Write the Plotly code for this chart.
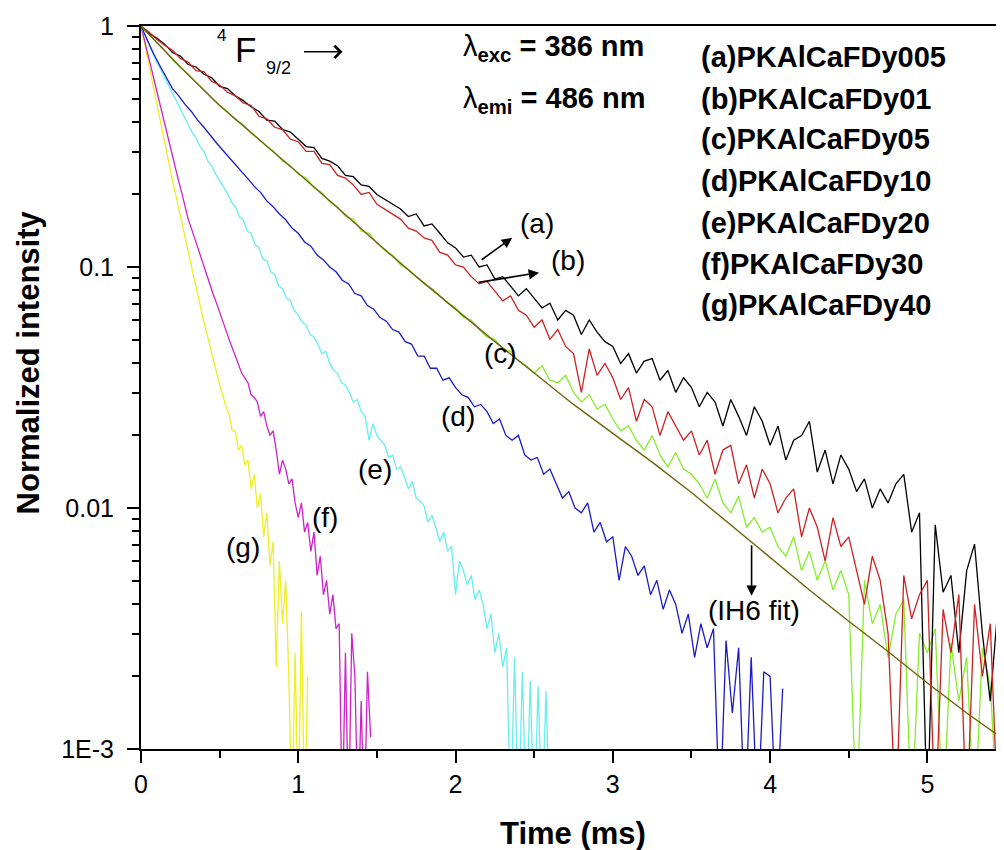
import numpy as np
import plotly.graph_objects as go

# ---------------- data (normalized intensity vs time in ms) ----------------
# sampling grids (ms)
t_abc = np.round(np.arange(111) * 0.05, 3)     # 0 .. 5.5
t_d = np.round(np.arange(103) * 0.04, 3)       # 0 .. 4.08
t_e = np.round(np.arange(105) * 0.025, 3)      # 0 .. 2.6
t_f = np.round(np.arange(74) * 0.02, 3)        # 0 .. 1.46
t_g = np.round(np.arange(54) * 0.02, 3)        # 0 .. 1.06
t_fit = [0, 0.25, 0.5, 0.75, 1.0, 1.25, 1.5, 1.75, 2.0, 2.25, 2.5, 2.75,
         3.0, 3.25, 3.5, 3.75, 4.0, 4.25, 4.5, 4.75, 5.0, 5.25, 5.5]

y_a = [1.0, 0.933, 0.891, 0.841, 0.776, 0.750, 0.692, 0.676, 0.631, 0.610,
       0.562, 0.550, 0.513, 0.490, 0.462, 0.442, 0.407, 0.403, 0.372, 0.363,
       0.339, 0.316, 0.313, 0.282, 0.275, 0.263, 0.240, 0.237, 0.219, 0.216,
       0.200, 0.191, 0.182, 0.174, 0.162, 0.166, 0.148, 0.151, 0.138, 0.126,
       0.120, 0.110, 0.112, 0.100, 0.102, 0.0891, 0.0912, 0.0832, 0.0759, 0.0813,
       0.0741, 0.0676, 0.0708, 0.0603, 0.0661, 0.0631, 0.0525, 0.0603, 0.0537, 0.0490,
       0.0468, 0.0398, 0.0437, 0.0363, 0.0407, 0.0417, 0.0339, 0.0372, 0.0302, 0.0347,
       0.0316, 0.0263, 0.0302, 0.0275, 0.0219, 0.0282, 0.0240, 0.0200, 0.0263, 0.0229,
       0.0182, 0.0219, 0.0158, 0.0191, 0.0200, 0.0229, 0.0141, 0.0174, 0.0126, 0.0166,
       0.0145, 0.0117, 0.0132, 0.0100, 0.0120, 0.0105, 0.0126, 0.0138, 0.00794, 0.00955,
       0.0005, 0.00851, 0.00447, 0.00525, 0.00251, 0.00550, 0.00708, 0.00300, 0.00158, 0.00398,
       0.0005]

y_b = [1.0, 0.944, 0.881, 0.832, 0.794, 0.733, 0.708, 0.653, 0.646, 0.589,
       0.569, 0.531, 0.513, 0.479, 0.468, 0.422, 0.412, 0.380, 0.372, 0.339,
       0.331, 0.302, 0.302, 0.269, 0.266, 0.240, 0.234, 0.219, 0.200, 0.204,
       0.182, 0.174, 0.166, 0.158, 0.145, 0.141, 0.132, 0.129, 0.115, 0.112,
       0.102, 0.100, 0.0912, 0.0851, 0.0871, 0.0794, 0.0724, 0.0759, 0.0661, 0.0631,
       0.0562, 0.0603, 0.0501, 0.0550, 0.0468, 0.0437, 0.0302, 0.0457, 0.0355, 0.0398,
       0.0347, 0.0282, 0.0316, 0.0229, 0.0282, 0.0263, 0.0200, 0.0251, 0.0219, 0.0191,
       0.0209, 0.0166, 0.0191, 0.0138, 0.0174, 0.0182, 0.0126, 0.0151, 0.0110, 0.0145,
       0.0126, 0.00955, 0.0110, 0.0120, 0.00759, 0.0100, 0.00832, 0.00603, 0.00912, 0.00692,
       0.00759, 0.00550, 0.00398, 0.00631, 0.00501, 0.00302, 0.0005, 0.00525, 0.00347, 0.00437,
       0.00501, 0.0005, 0.00380, 0.00251, 0.00437, 0.0005, 0.00398, 0.00200, 0.00331, 0.0005,
       0.00275]

y_c = [1.0, 0.923, 0.851, 0.794, 0.724, 0.676, 0.631, 0.582, 0.543, 0.501,
       0.468, 0.442, 0.407, 0.389, 0.359, 0.339, 0.316, 0.299, 0.275, 0.263,
       0.243, 0.234, 0.214, 0.204, 0.186, 0.178, 0.162, 0.158, 0.141, 0.138,
       0.126, 0.117, 0.112, 0.102, 0.0977, 0.0912, 0.0851, 0.0813, 0.0759, 0.0708,
       0.0676, 0.0617, 0.0603, 0.0550, 0.0513, 0.0501, 0.0457, 0.0447, 0.0407, 0.0389,
       0.0363, 0.0389, 0.0339, 0.0331, 0.0355, 0.0302, 0.0275, 0.0295, 0.0257, 0.0269,
       0.0234, 0.0209, 0.0219, 0.0191, 0.0174, 0.0200, 0.0166, 0.0148, 0.0170, 0.0145,
       0.0138, 0.0126, 0.0110, 0.0132, 0.0105, 0.00955, 0.0112, 0.00832, 0.00912, 0.00794,
       0.00832, 0.00692, 0.00631, 0.00759, 0.00550, 0.00661, 0.00501, 0.00603, 0.00457, 0.00550,
       0.00437, 0.0005, 0.00501, 0.00331, 0.00398, 0.00240, 0.00363, 0.00417, 0.0005, 0.00302,
       0.00251, 0.00316, 0.0005, 0.00275, 0.00158, 0.00240, 0.0005, 0.00263, 0.00182, 0.0005,
       0.00219]

y_d = [1.0, 0.871, 0.767, 0.684, 0.617, 0.550, 0.513, 0.473, 0.442, 0.407,
       0.380, 0.351, 0.327, 0.305, 0.285, 0.266, 0.251, 0.232, 0.216, 0.204,
       0.188, 0.178, 0.166, 0.157, 0.145, 0.138, 0.127, 0.122, 0.112, 0.107,
       0.100, 0.0955, 0.0881, 0.0851, 0.0776, 0.0759, 0.0692, 0.0668, 0.0617, 0.0596,
       0.0550, 0.0537, 0.0490, 0.0479, 0.0427, 0.0427, 0.0380, 0.0380, 0.0339, 0.0347,
       0.0316, 0.0295, 0.0288, 0.0263, 0.0269, 0.0251, 0.0224, 0.0234, 0.0200, 0.0191,
       0.0200, 0.0166, 0.0158, 0.0162, 0.0138, 0.0145, 0.0126, 0.0110, 0.0117, 0.0100,
       0.00955, 0.0105, 0.00794, 0.00871, 0.00724, 0.00759, 0.00501, 0.00692, 0.00631, 0.00525,
       0.00575, 0.00437, 0.00501, 0.00380, 0.00457, 0.00398, 0.00302, 0.00363, 0.00240, 0.00331,
       0.00263, 0.00316, 0.0005, 0.00282, 0.00141, 0.00263, 0.0005, 0.00240, 0.0005, 0.00209,
       0.00200, 0.0005, 0.00178]

y_e = [1.0, 0.917, 0.841, 0.776, 0.708, 0.661, 0.610, 0.569, 0.525, 0.490,
       0.452, 0.422, 0.389, 0.363, 0.343, 0.316, 0.302, 0.275, 0.263, 0.243,
       0.229, 0.214, 0.202, 0.186, 0.178, 0.162, 0.157, 0.141, 0.138, 0.124,
       0.120, 0.108, 0.106, 0.0955, 0.0933, 0.0832, 0.0813, 0.0741, 0.0724, 0.0661,
       0.0631, 0.0589, 0.0575, 0.0525, 0.0513, 0.0479, 0.0437, 0.0447, 0.0398, 0.0372,
       0.0363, 0.0331, 0.0324, 0.0302, 0.0275, 0.0282, 0.0251, 0.0240, 0.0191, 0.0224,
       0.0200, 0.0191, 0.0182, 0.0162, 0.0166, 0.0145, 0.0148, 0.0135, 0.0120, 0.0129,
       0.0110, 0.0107, 0.0102, 0.00871, 0.00933, 0.00832, 0.00724, 0.00794, 0.00661, 0.00692,
       0.00437, 0.00603, 0.00550, 0.00479, 0.00525, 0.00417, 0.00457, 0.00398, 0.00316, 0.00363,
       0.00251, 0.00302, 0.00219, 0.00263, 0.0005, 0.00240, 0.0005, 0.00209, 0.0005, 0.00191,
       0.0005, 0.00182, 0.0005, 0.00174, 0.0005]

y_f = [1.0, 0.891, 0.785, 0.692, 0.610, 0.537, 0.473, 0.417, 0.372, 0.324,
       0.288, 0.257, 0.226, 0.202, 0.178, 0.158, 0.145, 0.132, 0.120, 0.110,
       0.100, 0.0912, 0.0841, 0.0767, 0.0708, 0.0646, 0.0596, 0.0543, 0.0501, 0.0462,
       0.0427, 0.0398, 0.0363, 0.0347, 0.0331, 0.0295, 0.0288, 0.0275, 0.0240, 0.0251,
       0.0219, 0.0200, 0.0209, 0.0174, 0.0138, 0.0158, 0.0145, 0.0126, 0.0132, 0.0105,
       0.00912, 0.0105, 0.00794, 0.00871, 0.00661, 0.00794, 0.00525, 0.00631, 0.00437, 0.00501,
       0.00363, 0.00437, 0.00316, 0.00331, 0.0005, 0.00251, 0.0005, 0.00302, 0.00200, 0.0005,
       0.00158, 0.0005, 0.00209, 0.00112]

y_g = [1.0, 0.861, 0.741, 0.631, 0.543, 0.468, 0.407, 0.351, 0.305, 0.263,
       0.229, 0.200, 0.174, 0.151, 0.132, 0.115, 0.100, 0.0881, 0.0767, 0.0676,
       0.0589, 0.0525, 0.0462, 0.0412, 0.0363, 0.0324, 0.0295, 0.0263, 0.0245, 0.0209,
       0.0209, 0.0174, 0.0182, 0.0151, 0.0158, 0.0120, 0.0138, 0.0100, 0.0115, 0.00759,
       0.00955, 0.00575, 0.00724, 0.00219, 0.00603, 0.00331, 0.00501, 0.00200, 0.0005, 0.00251,
       0.0005, 0.00372, 0.0005, 0.00200]

y_fit = [1.0, 0.676, 0.468, 0.339, 0.245, 0.176, 0.126, 0.0912, 0.0668, 0.0490, 0.0363, 0.0269,
         0.0204, 0.0155, 0.0116, 0.00851, 0.00624, 0.00457, 0.00339, 0.00254, 0.00188, 0.00141, 0.00108]

sample_labels = ["(a)PKAlCaFDy005", "(b)PKAlCaFDy01", "(c)PKAlCaFDy05", "(d)PKAlCaFDy10",
                 "(e)PKAlCaFDy20", "(f)PKAlCaFDy30", "(g)PKAlCaFDy40"]
y_tickvals = [0.001, 0.01, 0.1, 1]
y_ticktext = ["1E-3", "0.01", "0.1", "1"]

# ---------------- figure ----------------
FONT = "Liberation Sans, Arial, sans-serif"
W, H = 1004, 850
ML, MR, MT, MB = 133, 4, 14, 109
PW, PH = W - ML - MR, H - MT - MB


def px(x):
    return (x - ML) / PW


def py(y):
    return (H - MB - y) / PH


series = [
    (t_g, y_g, "#eeee22"),
    (t_f, y_f, "#cc22cc"),
    (t_e, y_e, "#66eef0"),
    (t_d, y_d, "#1a1ac8"),
    (t_abc, y_c, "#86ee2a"),
    (t_abc, y_a, "#000000"),
    (t_abc, y_b, "#cc2222"),
]

fig = go.Figure()
for t, y, col in series:
    fig.add_trace(go.Scatter(x=t, y=y, mode="lines", line=dict(color=col, width=1.3),
                             showlegend=False, hoverinfo="skip"))
fig.add_trace(go.Scatter(x=t_fit, y=y_fit, mode="lines", line=dict(color="#6e640a", width=1.4),
                         showlegend=False, hoverinfo="skip"))

minor_y = [m * 10.0 ** e for e in (-3, -2, -1) for m in range(2, 10)]

fig.update_layout(
    width=W, height=H,
    margin=dict(l=ML, r=MR, t=MT, b=MB),
    paper_bgcolor="white", plot_bgcolor="white",
    showlegend=False,
    font=dict(family=FONT, color="black"),
)
fig.update_xaxes(
    range=[0, 5.5], showline=True, linecolor="black", linewidth=2, mirror=True,
    ticks="outside", ticklen=12, tickwidth=2, tickcolor="black",
    tick0=0, dtick=1, showgrid=False, zeroline=False,
    tickfont=dict(family=FONT, size=25, color="black"),
    minor=dict(ticks="outside", ticklen=7, tickwidth=2, tickcolor="black",
               tick0=0, dtick=0.5, showgrid=False),
)
fig.update_yaxes(
    type="log", range=[-3, 0], showline=True, linecolor="black", linewidth=2, mirror=True,
    ticks="outside", ticklen=12, tickwidth=2, tickcolor="black",
    tickmode="array", tickvals=y_tickvals, ticktext=y_ticktext,
    showgrid=False, zeroline=False, ticklabelstandoff=8, ticklabeloverflow="allow",
    tickfont=dict(family=FONT, size=25, color="black"),
    minor=dict(ticks="outside", ticklen=7, tickwidth=2, tickcolor="black",
               tickmode="array", tickvals=minor_y, showgrid=False),
)

ann = []


def text(x, y, s, size, xa="center", ya="middle", angle=0, bold=False):
    ann.append(dict(x=px(x), y=py(y), xref="paper", yref="paper", text=(f"<b>{s}</b>" if bold else s),
                    showarrow=False, xanchor=xa, yanchor=ya, textangle=angle, borderpad=0,
                    font=dict(family=FONT, size=size, color="black")))


def arrow(x0, y0, x1, y1, head=2, size=1.3, width=1.6):
    ann.append(dict(x=px(x1), y=py(y1), xref="paper", yref="paper", text="",
                    showarrow=True, ax=x0 - x1, ay=y0 - y1, axref="pixel", ayref="pixel",
                    arrowhead=head, arrowsize=size, arrowwidth=width, arrowcolor="black",
                    standoff=0, startstandoff=0))


# axis titles
text(566, 826, "Time (ms)", 31, bold=True)
text(20, 352, "Normalized intensity", 31, angle=-90, bold=True)

# sample list
legend_y = [45, 87, 128, 170, 212, 253, 295]
for s, yy in zip(sample_labels, legend_y):
    text(693, yy, s, 29, xa="left", bold=True)

# excitation / emission
text(455, 36, "λ<b><sub>exc</sub> = 386 nm</b>", 29, xa="left")
text(455, 88, "λ<b><sub>emi</sub> = 486 nm</b>", 29, xa="left")

# 4F9/2 ->
text(214, 24, "4", 17)
text(238, 38, "F", 35)
text(271, 56, "9/2", 18)
arrow(295, 40, 335, 40, head=4, size=1.6, width=1.5)

# curve labels
text(530, 213, "(a)", 28)
text(561, 250, "(b)", 28)
text(493, 343, "(c)", 28)
text(451, 407, "(d)", 28)
text(368, 460, "(e)", 28)
text(317, 508, "(f)", 28)
text(235, 538, "(g)", 28)
text(747, 602, "(IH6 fit)", 28)

arrow(473, 250, 505, 227)
arrow(470, 272, 532, 262)
arrow(745, 535, 745, 587)

fig.update_layout(annotations=ann)
fig.write_html("out.html")
